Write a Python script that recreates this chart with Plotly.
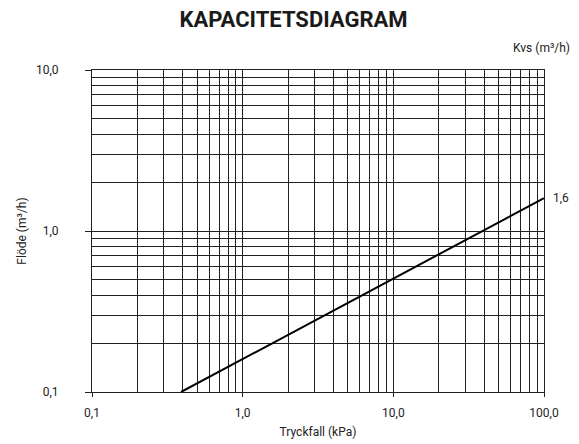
import math
import plotly.graph_objects as go

# Data
pressure_kpa = [0.39, 100.0]
flow_m3h = [0.1, 1.6]
kvs_label = "1,6"
x_tick_vals = [0.1, 1, 10, 100]
x_tick_text = ["0,1", "1,0", "10,0", "100,0"]
y_tick_vals = [0.1, 1, 10]
y_tick_text = ["0,1", "1,0", "10,0"]

minor_x = [m * 10 ** e for e in (-1, 0, 1) for m in range(2, 10)]
minor_y = [m * 10 ** e for e in (-1, 0) for m in range(2, 10)]

font_family = "Roboto, 'Open Sans', sans-serif"
txt = "#222"

fig = go.Figure()
fig.add_trace(go.Scatter(
    x=pressure_kpa, y=flow_m3h, mode="lines",
    line=dict(color="black", width=2), showlegend=False, hoverinfo="skip",
))

fig.add_annotation(x=1, y=math.log10(flow_m3h[-1]), xref="paper", yref="y",
                   text=kvs_label, showarrow=False, xanchor="left", xshift=7,
                   font=dict(size=12, color=txt))
fig.add_annotation(x=1.062, y=1, xref="paper", yref="paper", yshift=22,
                   text="Kvs (m³/h)", showarrow=False, xanchor="right",
                   yanchor="middle", font=dict(size=12, color=txt))

grid_color = "#222"
fig.update_xaxes(
    type="log", range=[-1, 2], tickmode="array", tickvals=x_tick_vals,
    ticktext=x_tick_text, showgrid=True, gridcolor=grid_color, gridwidth=1,
    ticks="outside", ticklen=4, tickcolor="#222", ticklabelstandoff=6,
    minor=dict(tickmode="array", tickvals=minor_x, showgrid=True,
               gridcolor=grid_color, gridwidth=1, ticks=""),
    showline=True, linecolor="#222", linewidth=1, mirror=True,
    title=dict(text="Tryckfall (kPa)", font=dict(size=12, color=txt), standoff=8),
    tickfont=dict(size=12, color=txt), zeroline=False,
)
fig.update_yaxes(
    type="log", range=[-1, 1], tickmode="array", tickvals=y_tick_vals,
    ticktext=y_tick_text, showgrid=True, gridcolor=grid_color, gridwidth=1,
    ticks="outside", ticklen=6, tickcolor="#222", ticklabelstandoff=24,
    minor=dict(tickmode="array", tickvals=minor_y, showgrid=True,
               gridcolor=grid_color, gridwidth=1, ticks=""),
    showline=True, linecolor="#222", linewidth=1, mirror=True,
    title=dict(text="Flöde (m³/h)", font=dict(size=12, color=txt), standoff=6),
    tickfont=dict(size=12, color=txt), zeroline=False,
)

fig.update_layout(
    width=571, height=436,
    margin=dict(l=84, r=35, t=62, b=52, autoexpand=False),
    paper_bgcolor="white", plot_bgcolor="white",
    font=dict(family=font_family, color=txt),
    title=dict(text="<b>KAPACITETSDIAGRAM</b>", x=0.5, xanchor="center",
               yref="container", y=1, yanchor="top", pad=dict(t=4),
               font=dict(size=22, color="#1a1a1a", family=font_family)),
)

fig.write_html("out.html")
